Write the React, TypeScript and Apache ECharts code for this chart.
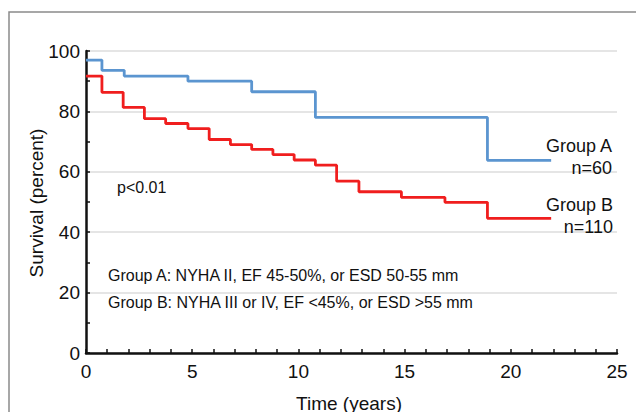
import React, { useEffect, useRef } from "react";
import * as echarts from "echarts";

const timesA = [0, 0.75, 1.8, 4.8, 7.8, 10.8, 18.9, 21.9];
const survivalA = [97, 93.6, 91.7, 90, 86.5, 78, 63.8, 63.8];
const timesB = [0, 0.75, 1.75, 2.75, 3.75, 4.8, 5.8, 6.8, 7.8, 8.8, 9.8, 10.8, 11.8, 12.85, 14.85, 16.9, 18.9, 21.9];
const survivalB = [91.7, 86.3, 81.3, 77.6, 76, 74.3, 70.7, 69, 67.4, 65.7, 63.9, 62.2, 56.9, 53.4, 51.5, 49.9, 44.6, 44.6];
const xTicks = [0, 5, 10, 15, 20, 25];
const yTicks = [0, 20, 40, 60, 80, 100];

const FONT = "Liberation Sans, Arial, Helvetica, sans-serif";

export default function App() {
  const ref = useRef<HTMLDivElement>(null);
  useEffect(() => {
    if (!ref.current) return;
    const chart = echarts.init(ref.current, null, { renderer: "svg" });
    const dataA = timesA.map((t, i) => [t, survivalA[i]]);
    const dataB = timesB.map((t, i) => [t, survivalB[i]]);
    const txt = (x: number, y: number, text: string, size: number, align: string, extra: any = {}) => ({
      type: "text",
      x,
      y,
      z: 10,
      ...extra,
      style: { text, fontSize: size, fontFamily: FONT, fill: "#111", align, verticalAlign: "middle" },
    });
    chart.setOption({
      animation: false,
      backgroundColor: "#fff",
      grid: { left: 86, right: 19, top: 51, bottom: 59 },
      xAxis: {
        type: "value",
        min: xTicks[0],
        max: xTicks[xTicks.length - 1],
        interval: 5,
        axisLine: { show: true, lineStyle: { color: "#111", width: 2.5 } },
        axisTick: { show: true, inside: true, length: 4, lineStyle: { color: "#111", width: 1.5 } },
        minorTick: { show: true, splitNumber: 5, length: 4, lineStyle: { color: "#111", width: 1.5 } },
        axisLabel: { fontSize: 19, fontFamily: FONT, color: "#111", margin: 9 },
        splitLine: { show: false },
      },
      yAxis: {
        type: "value",
        min: yTicks[0],
        max: yTicks[yTicks.length - 1],
        interval: 20,
        axisLine: { show: true, lineStyle: { color: "#111", width: 2.5 } },
        axisTick: { show: true, inside: true, length: 4, lineStyle: { color: "#111", width: 1.5 } },
        minorTick: { show: true, splitNumber: 2, length: 4, lineStyle: { color: "#111", width: 1.5 } },
        axisLabel: { fontSize: 19, fontFamily: FONT, color: "#111", margin: 6 },
        splitLine: { show: true, lineStyle: { color: "#dcdcdc", width: 1.5 } },
      },
      series: [
        {
          name: "Group A",
          type: "line",
          step: "end",
          data: dataA,
          symbol: "none",
          lineStyle: { color: "#5b95d0", width: 2.8 },
          z: 3,
        },
        {
          name: "Group B",
          type: "line",
          step: "end",
          data: dataB,
          symbol: "none",
          lineStyle: { color: "#f01e1e", width: 2.8 },
          z: 3,
        },
      ],
      graphic: [
        {
          type: "rect",
          z: -10,
          shape: { x: 9, y: 12, width: 700, height: 500 },
          style: { fill: "none", stroke: "#8a8a8a", lineWidth: 1.5 },
        },
        txt(36, 203, "Survival (percent)", 19, "center", { rotation: Math.PI / 2 }),
        txt(349, 403, "Time (years)", 19, "center"),
        txt(612, 146, "Group A", 18, "right"),
        txt(612, 168, "n=60", 18, "right"),
        txt(613, 205, "Group B", 18, "right"),
        txt(613, 227, "n=110", 18, "right"),
        txt(117, 187, "p<0.01", 16, "left"),
        txt(108, 275, "Group A: NYHA II, EF 45-50%, or ESD 50-55 mm", 16, "left"),
        txt(108, 302, "Group B: NYHA III or IV, EF <45%, or ESD >55 mm", 16, "left"),
      ],
    });
    return () => chart.dispose();
  }, []);
  return <div ref={ref} style={{ position: "fixed", left: 0, top: 0, width: 636, height: 412 }} />;
}
